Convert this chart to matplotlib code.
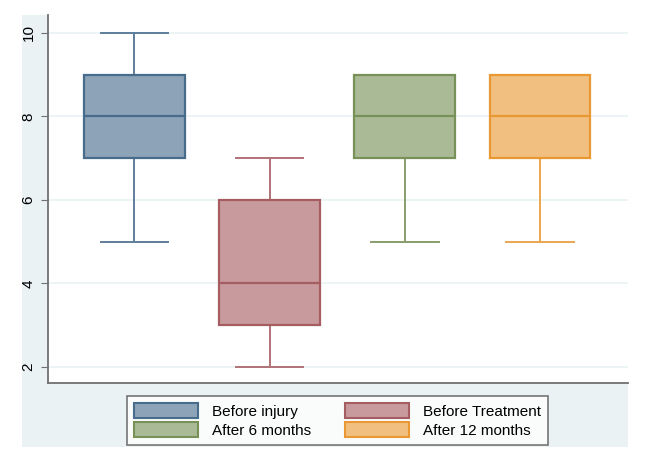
import matplotlib
matplotlib.use("Agg")
import matplotlib.pyplot as plt
from matplotlib.patches import Patch, Rectangle
from matplotlib.colors import to_rgb

plt.rcParams["font.family"] = ["Liberation Sans", "DejaVu Sans"]

# Box summary values
groups = ["Before injury", "Before Treatment", "After 6 months", "After 12 months"]
whislo = [5, 2, 5, 5]
q1 = [7, 3, 7, 7]
med = [8, 4, 8, 8]
q3 = [9, 6, 9, 9]
whishi = [10, 7, 9, 9]
yticks = [2, 4, 6, 8, 10]

colors = ["#1a476f", "#90353b", "#55752f", "#e37e00"]


def tint(c, a):
    # blend colour with white, opaque result
    r, g, b = to_rgb(c)
    return (1 - a + a * r, 1 - a + a * g, 1 - a + a * b)


W, H = 645, 470
fig = plt.figure(figsize=(W / 100, H / 100), dpi=100)
fig.patch.set_facecolor("white")

# light blue graph region (Stata style)
bg_color = "#eaf2f3"
fig.patches.append(Rectangle((22 / W, 1 - 447 / H), (628 - 22) / W, (447 - 15) / H,
                             transform=fig.transFigure, facecolor=bg_color,
                             edgecolor="none", zorder=-10))

ax = fig.add_axes([48 / W, 1 - 383 / H, (628 - 48) / W, (383 - 15) / H])
ax.set_facecolor("white")

stats = []
for i in range(len(groups)):
    stats.append(dict(whislo=whislo[i], q1=q1[i], med=med[i], q3=q3[i],
                      whishi=whishi[i], fliers=[], label=groups[i]))

positions = list(range(1, len(groups) + 1))
bp = ax.bxp(stats, positions=positions, widths=0.745, patch_artist=True,
            showfliers=False, capwidths=0.5, manage_ticks=False)

for i, c in enumerate(colors):
    edge = tint(c, 0.8)
    bp["boxes"][i].set_facecolor(tint(c, 0.5))
    bp["boxes"][i].set_edgecolor(edge)
    bp["boxes"][i].set_linewidth(1.6)
    bp["boxes"][i].set_zorder(3)
    bp["medians"][i].set_color(edge)
    bp["medians"][i].set_linewidth(1.6)
    bp["medians"][i].set_zorder(4)
    for ln in bp["whiskers"][2 * i:2 * i + 2] + bp["caps"][2 * i:2 * i + 2]:
        ln.set_color(tint(c, 0.7))
        ln.set_linewidth(1.4)
        ln.set_zorder(2)

ax.set_xlim(0.361, 4.65)
ax.set_ylim(1.617, 10.43)
ax.set_xticks([])
ax.set_yticks(yticks)
ax.set_yticklabels([str(v) for v in yticks], rotation=90, va="center", fontsize=11)
ax.grid(axis="y", color=bg_color, linewidth=1.2)
ax.set_axisbelow(True)
ax.tick_params(axis="y", length=5, color="#707070", pad=4)

for s in ["top", "right"]:
    ax.spines[s].set_visible(False)
for s in ["left", "bottom"]:
    ax.spines[s].set_color("#707070")
    ax.spines[s].set_linewidth(1.3)

# legend, filled row-wise like the original
order = [0, 2, 1, 3]
handles = [Patch(facecolor=tint(colors[i], 0.5), edgecolor=tint(colors[i], 0.8),
                 linewidth=1.5, label=groups[i]) for i in order]
leg = fig.legend(handles=handles, loc="center", bbox_to_anchor=(337.5 / W, 1 - 420.5 / H),
                 ncol=2, fontsize=11, frameon=True, fancybox=False,
                 handlelength=4.2, handleheight=1.1, handletextpad=0.9,
                 columnspacing=2.2, labelspacing=0.25, borderpad=0.45)
leg.get_frame().set_edgecolor("#555555")
leg.get_frame().set_linewidth(1.2)
leg.get_frame().set_facecolor("white")

fig.savefig("out.png", dpi=100)
